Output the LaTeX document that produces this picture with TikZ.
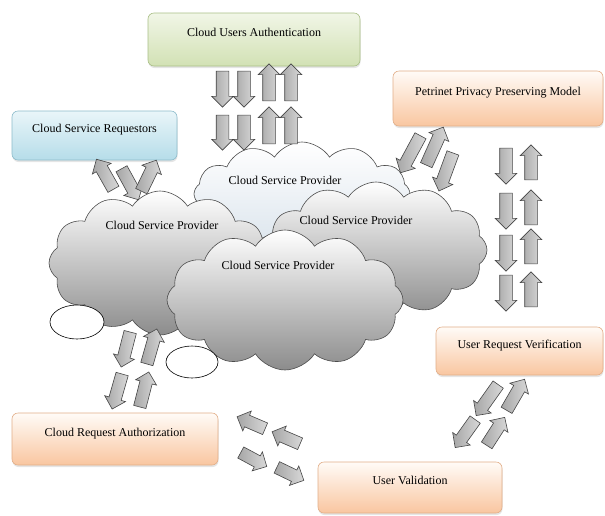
\documentclass[tikz,border=0pt]{standalone}
\usepackage{fontspec}
\setmainfont{Liberation Serif}
\usetikzlibrary{shapes.symbols,shapes.arrows,shapes.geometric,calc,shadows}

\definecolor{greentop}{HTML}{F1F6E7}
\definecolor{greenbot}{HTML}{D2E1B4}
\definecolor{greenline}{HTML}{A9BF86}
\definecolor{bluetop}{HTML}{E9F5F9}
\definecolor{bluebot}{HTML}{B6DDE9}
\definecolor{blueline}{HTML}{8DBCCB}
\definecolor{orangetop}{HTML}{FFFBF7}
\definecolor{orangebot}{HTML}{F9C6A0}
\definecolor{orangeline}{HTML}{E2AE88}
\definecolor{cloudgray}{HTML}{8C8C8C}
\definecolor{cloudmid}{HTML}{D4D4D4}
\definecolor{cloudpale}{HTML}{DCE5ED}

\tikzset{
  box/.style={rectangle, rounded corners=6pt, line width=0.6pt,
    text height=8pt, text depth=14pt,
    drop shadow={opacity=0.2, shadow xshift=0.5pt, shadow yshift=-2pt}},
  greenbox/.style={box, draw=greenline, top color=greentop, bottom color=greenbot},
  bluebox/.style={box, draw=blueline, top color=bluetop, bottom color=bluebot},
  orangebox/.style={box, draw=orangeline, top color=orangetop, bottom color=orangebot},
  csp/.style={cloud, cloud puffs=12, cloud puff arc=115, cloud ignores aspect,
    draw=gray!60!black, line width=0.6pt,
    top color=white, middle color=cloudmid, bottom color=cloudgray},
  hole/.style={ellipse, draw, fill=white, line width=0.6pt},
  blockarrow/.style={single arrow, draw=gray!55!black, line width=0.6pt,
    left color=gray!70, right color=gray!30, inner xsep=0pt, inner ysep=6pt,
    minimum width=21pt, single arrow head extend=4.5pt, single arrow tip angle=90}
}

% block arrow node from tail (#2) to tip (#3)
\newcommand{\blockarrow}[3]{%
  \path let \p1=($(#3)-(#2)$) in
    node[blockarrow, rotate={atan2(\y1,\x1)}, minimum height={veclen(\x1,\y1)}]
      (#1) at ($(#2)!0.5!(#3)$) {};}

\begin{document}
\begin{tikzpicture}[x=1pt, y=-1pt, font=\fontsize{12}{14}\selectfont]
    \useasboundingbox[fill=white] (0,0) rectangle (605,515);

    % Clouds of service providers (back to front)
    \node[csp, top color=white, bottom color=cloudpale, minimum width=216pt, minimum height=104pt] (csptop) at (302,194) {};
    \node (csptoptext) at (285,180) {Cloud Service Provider};
    \node[csp, minimum width=222pt, minimum height=144pt] (cspleft) at (160,263) {};
    \node (csplefttext) at (162,225) {Cloud Service Provider};
    \node[csp, minimum width=222pt, minimum height=136pt] (cspright) at (376,250) {};
    \node (csprighttext) at (356,220) {Cloud Service Provider};
    \node[csp, minimum width=236pt, minimum height=140pt] (cspfront) at (285,300) {};
    \node (cspfronttext) at (278,265) {Cloud Service Provider};

    % Small white ellipses
    \node[hole, minimum width=54pt, minimum height=34pt] (holeleft) at (77,322) {};
    \node[hole, minimum width=52pt, minimum height=32pt] (holefront) at (192,362) {};

    % Boxes
    \node[greenbox, minimum width=212pt, minimum height=53pt] (auth) at (254,39.5) {Cloud Users Authentication};
    \node[bluebox, minimum width=165pt, minimum height=49pt] (requestors) at (94.5,135.5) {Cloud Service Requestors};
    \node[orangebox, minimum width=210pt, minimum height=55pt] (model) at (498,98.5) {Petrinet Privacy Preserving Model};
    \node[orangebox, minimum width=167pt, minimum height=48pt] (verification) at (519.5,351) {User Request Verification};
    \node[orangebox, minimum width=206pt, minimum height=52pt] (authorization) at (115,439) {Cloud Request Authorization};
    \node[orangebox, minimum width=184pt, minimum height=51pt] (validation) at (410,487.5) {User Validation};

    % Arrows between authentication and the clouds
    \foreach \ax/\col in {222.5/a,244/b} {
        \blockarrow{authdown\col1}{\ax,68}{\ax,104}
        \blockarrow{authdown\col2}{\ax,112}{\ax,147}
    }
    \foreach \ax/\col in {269/a,291/b} {
        \blockarrow{authup\col1}{\ax,104}{\ax,67}
        \blockarrow{authup\col2}{\ax,147}{\ax,110}
    }

    % Arrows to the requestors
    \blockarrow{requp1}{115,192}{98,162}
    \blockarrow{reqdown}{120,166}{137,197}
    \blockarrow{requp2}{140,194}{155,163}

    % Arrows between the model and the clouds
    \blockarrow{modelcloud1}{422,133}{402,170}
    \blockarrow{modelcloud2}{425,168}{442,130}
    \blockarrow{modelcloud3}{454,150}{440,188}

    % Arrows between the model and the verification
    \foreach \ay [count=\i] in {145,190,232,272}
        \blockarrow{modeldown\i}{506,\ay}{506,\ay+36};
    \foreach \ay [count=\i] in {183,228,267,310}
        \blockarrow{modelup\i}{531,\ay}{531,\ay-35};

    % Arrows between verification and validation
    \blockarrow{verdown1}{500,382}{478,413}
    \blockarrow{verup1}{505,413}{523,382}
    \blockarrow{verdown2}{477,417}{457,445}
    \blockarrow{verup2}{485,448}{503,420}

    % Arrows between validation and authorization
    \blockarrow{valleft1}{268,430}{240,418}
    \blockarrow{valleft2}{303,445}{275,433}
    \blockarrow{valright1}{238,451}{264,465}
    \blockarrow{valright2}{274,466}{301,479}

    % Arrows between the clouds and authorization
    \blockarrow{authzdown1}{131,329}{122,364}
    \blockarrow{authzup1}{146,367}{156,332}
    \blockarrow{authzdown2}{123,371}{113,406}
    \blockarrow{authzup2}{139,410}{148,375}
\end{tikzpicture}
\end{document}
